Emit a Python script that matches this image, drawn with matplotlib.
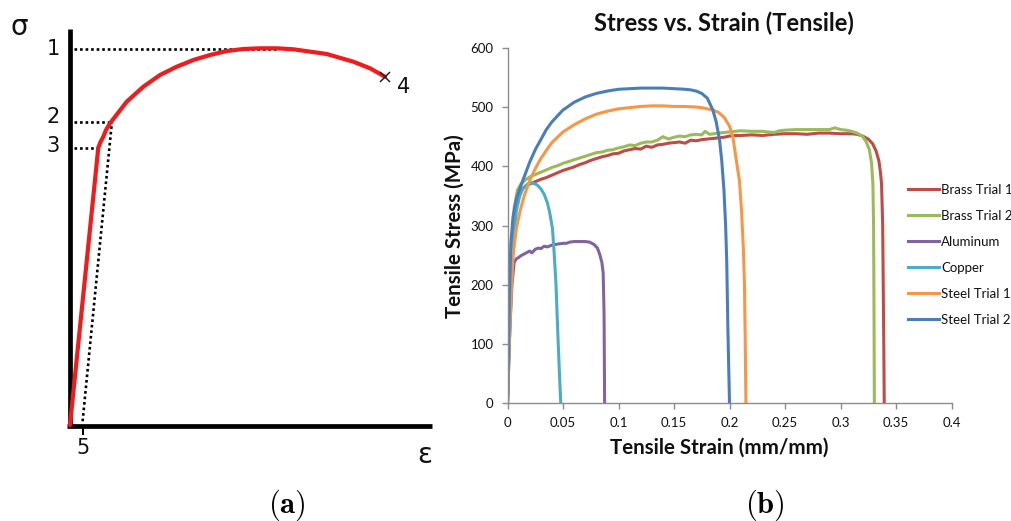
import matplotlib
matplotlib.use("Agg")
import matplotlib.pyplot as plt

# ---------------- Panel (a): schematic stress-strain curve ----------------
schem_strain = [0.0, 0.0898, 0.0968, 0.1057, 0.1143, 0.127, 0.18, 0.2327, 0.2857, 0.3387, 0.3914,
                0.4444, 0.4975, 0.5502, 0.6032, 0.6562, 0.7089, 0.8149, 0.8994, 0.9524, 1.0]
schem_stress = [0.0, 0.7355, 0.7507, 0.7647, 0.7825, 0.8003, 0.8576, 0.8973, 0.9284, 0.9504, 0.9682,
                0.9814, 0.992, 0.9973, 0.9992, 0.9992, 0.9966, 0.9841, 0.9637, 0.9462, 0.9239]
schem_labels = ["1", "2", "3", "4", "5"]
uts_level = 0.9985
yield_level = 0.803
prop_level = 0.7355
offset_strain = 0.040

# ---------------- Panel (b): measured tensile curves ----------------
brass1_strain = [0, 0.002, 0.004, 0.006, 0.009, 0.012, 0.016, 0.02, 0.025, 0.03, 0.035, 0.04, 0.045,
                 0.05, 0.055, 0.06, 0.065, 0.07, 0.075, 0.08, 0.085, 0.09, 0.095, 0.1, 0.105, 0.11,
                 0.115, 0.12, 0.125, 0.13, 0.135, 0.14, 0.145, 0.15, 0.155, 0.16, 0.165, 0.17, 0.175,
                 0.18, 0.185, 0.19, 0.195, 0.2, 0.205, 0.21, 0.22, 0.23, 0.24, 0.25, 0.26, 0.27, 0.28,
                 0.29, 0.3, 0.31, 0.315, 0.32, 0.325, 0.329, 0.332, 0.3345, 0.336, 0.337, 0.338,
                 0.3385, 0.339, 0.3394]
brass1_stress = [0, 150, 260, 320, 350, 360, 366, 370, 374, 378, 381, 385, 389, 393, 396, 399, 403,
                 406, 410, 413, 416, 418, 421, 422, 426, 428, 430, 429, 434, 432, 436, 437, 439, 440,
                 441, 439, 444, 443, 445, 446, 447, 448, 449, 451, 452, 452, 453, 452, 454, 455, 455,
                 454, 456, 456, 455, 455, 454, 451, 446, 438, 426, 410, 390, 370, 300, 200, 100, 0]

brass2_strain = [0, 0.002, 0.004, 0.006, 0.009, 0.012, 0.016, 0.02, 0.025, 0.03, 0.035, 0.04, 0.045,
                 0.05, 0.055, 0.06, 0.065, 0.07, 0.075, 0.08, 0.085, 0.09, 0.095, 0.1, 0.105, 0.11,
                 0.115, 0.12, 0.125, 0.13, 0.135, 0.14, 0.145, 0.15, 0.155, 0.16, 0.165, 0.17, 0.175,
                 0.178, 0.182, 0.19, 0.2, 0.21, 0.22, 0.23, 0.24, 0.245, 0.25, 0.26, 0.27, 0.28, 0.29,
                 0.295, 0.3, 0.305, 0.31, 0.315, 0.32, 0.323, 0.326, 0.328, 0.3292, 0.3298, 0.3302,
                 0.3305]
brass2_stress = [0, 160, 270, 330, 360, 370, 377, 382, 386, 390, 394, 398, 401, 405, 408, 411, 414,
                 417, 420, 423, 424, 427, 428, 431, 433, 436, 435, 439, 441, 441, 444, 450, 446, 449,
                 451, 450, 453, 454, 453, 459, 454, 456, 458, 460, 459, 459, 457, 460, 461, 462, 462,
                 462, 462, 465, 462, 461, 459, 456, 450, 442, 428, 405, 370, 300, 150, 0]

alu_strain = [0, 0.002, 0.004, 0.006, 0.008, 0.01, 0.012, 0.015, 0.018, 0.02, 0.022, 0.025, 0.028,
              0.03, 0.033, 0.036, 0.04, 0.043, 0.046, 0.05, 0.053, 0.056, 0.06, 0.065, 0.07, 0.074,
              0.078, 0.081, 0.083, 0.085, 0.0862, 0.087, 0.0875]
alu_stress = [0, 120, 200, 238, 244, 246, 249, 252, 255, 257, 254, 260, 262, 261, 265, 264, 267, 268,
              269, 270, 270, 272, 273, 273, 273, 272, 268, 262, 252, 238, 220, 150, 0]

copper_strain = [0, 0.002, 0.004, 0.006, 0.008, 0.011, 0.014, 0.018, 0.021, 0.024, 0.027, 0.03,
                 0.033, 0.036, 0.038, 0.0405, 0.042, 0.0437, 0.0455, 0.0468, 0.048]
copper_stress = [0, 120, 230, 290, 325, 350, 363, 370, 372, 371, 368, 362, 353, 338, 322, 295, 255,
                 200, 110, 50, 0]

steel1_strain = [0, 0.001, 0.003, 0.005, 0.008, 0.011, 0.015, 0.02, 0.025, 0.03, 0.035, 0.04, 0.05,
                 0.06, 0.07, 0.08, 0.09, 0.1, 0.11, 0.12, 0.13, 0.14, 0.15, 0.16, 0.17, 0.175, 0.18,
                 0.185, 0.19, 0.195, 0.2, 0.203, 0.206, 0.209, 0.211, 0.2125, 0.2135, 0.2142, 0.2148]
steel1_stress = [0, 70, 170, 250, 295, 322, 350, 376, 396, 413, 427, 440, 458, 470, 480, 488, 493,
                 497, 499, 501, 502, 502, 501, 501, 500, 499, 497, 495, 491, 483, 468, 450, 412, 375,
                 320, 260, 200, 100, 0]

steel2_strain = [0, 0.001, 0.002, 0.003, 0.005, 0.008, 0.011, 0.015, 0.02, 0.025, 0.03, 0.035, 0.04,
                 0.05, 0.06, 0.07, 0.08, 0.09, 0.1, 0.11, 0.12, 0.13, 0.14, 0.15, 0.16, 0.165, 0.17,
                 0.175, 0.18, 0.185, 0.188, 0.191, 0.193, 0.195, 0.1965, 0.1975, 0.1985, 0.2]
steel2_stress = [0, 100, 200, 270, 315, 345, 362, 382, 407, 428, 445, 462, 475, 495, 508, 517, 523,
                 527, 530, 531, 532, 532, 532, 531, 530, 529, 527, 523, 515, 495, 475, 445, 410, 360,
                 300, 240, 130, 0]

series_names = ["Brass Trial 1", "Brass Trial 2", "Aluminum", "Copper", "Steel Trial 1", "Steel Trial 2"]
series_colors = ["#BE4B48", "#9BBB59", "#8064A2", "#4BACC6", "#F79646", "#4A7EBB"]

x_ticks = [0, 0.05, 0.1, 0.15, 0.2, 0.25, 0.3, 0.35, 0.4]
x_tick_labels = ["0", "0.05", "0.1", "0.15", "0.2", "0.25", "0.3", "0.35", "0.4"]
y_ticks = [0, 100, 200, 300, 400, 500, 600]

W, H = 1012, 521
fig = plt.figure(figsize=(W / 100, H / 100), dpi=100)
plt.rcParams["mathtext.fontset"] = "cm"

# ---- panel (a) ----
sx, sy = 315.0, 377.0      # px per unit
ox, oy = 70.0, 425.0       # origin in px
axw = 440.0
axa = fig.add_axes([0, 0, axw / W, 1])
axa.set_xlim(-ox / sx, (axw - ox) / sx)
axa.set_ylim(-(H - oy) / sy, oy / sy)
axa.axis("off")

black = "black"
axa.plot([0, 0], [-2 / sy, (oy - 29) / sy], color=black, lw=3.4, solid_capstyle="butt")
axa.plot([-3 / sx, (432 - ox) / sx], [-0.7 / sy, -0.7 / sy], color=black, lw=3.4, solid_capstyle="butt")
dot = dict(color=black, lw=1.9, ls=(0, (1, 1.1)))
axa.plot([4 / sx, 0.657], [uts_level, uts_level], **dot)
axa.plot([4 / sx, 0.133], [yield_level, yield_level], **dot)
axa.plot([4 / sx, schem_strain[1]], [prop_level, prop_level], **dot)
axa.plot([offset_strain, 0.133], [0.01, yield_level], **dot)
axa.plot([offset_strain, offset_strain], [-3 / sy, -9 / sy], color=black, lw=1.5)
axa.plot(schem_strain, schem_stress, color="#EE1C1C", lw=3.0, solid_joinstyle="round",
         solid_capstyle="round")
axa.plot([schem_strain[-1]], [schem_stress[-1]], marker="x", ms=7, mew=1.1, color="#222222")

tfont = dict(family="DejaVu Sans", fontsize=15, color="#111111")
gfont = dict(family="DejaVu Sans", fontsize=20, color="#111111")
axa.text(-51 / sx, (oy - 27) / sy, "σ", ha="center", va="center", **gfont)
axa.text(-17 / sx, uts_level, schem_labels[0], ha="center", va="center", **tfont)
axa.text(-17 / sx, 0.817, schem_labels[1], ha="center", va="center", **tfont)
axa.text(-17 / sx, 0.740, schem_labels[2], ha="center", va="center", **tfont)
axa.text(1.06, 0.897, schem_labels[3], ha="center", va="center", **tfont)
axa.text(offset_strain, -23 / sy, schem_labels[4], ha="center", va="center", **tfont)
axa.text((425 - ox) / sx, -30 / sy, "ε", ha="center", va="center", **gfont)

fig.text(287 / W, 1 - 505 / H, r"$\mathbf{(a)}$", ha="center", va="center", fontsize=22)
fig.text(765 / W, 1 - 505 / H, r"$\mathbf{(b)}$", ha="center", va="center", fontsize=22)

# ---- panel (b) ----
bfam = ["Lato", "DejaVu Sans"]
x0, x1 = 507.5, 951.5
y0, y1 = 403.3, 47.8
axb = fig.add_axes([x0 / W, 1 - y0 / H, (x1 - x0) / W, (y0 - y1) / H])
xs = [brass1_strain, brass2_strain, alu_strain, copper_strain, steel1_strain, steel2_strain]
ys = [brass1_stress, brass2_stress, alu_stress, copper_stress, steel1_stress, steel2_stress]
for xv, yv, name, col in zip(xs, ys, series_names, series_colors):
    axb.plot(xv, yv, color=col, lw=2.2, label=name, solid_joinstyle="round")
axb.set_xlim(0, 0.4)
axb.set_ylim(0, 600)
axb.set_xticks(x_ticks)
axb.set_xticklabels(x_tick_labels)
axb.set_yticks(y_ticks)
for s in ["top", "right"]:
    axb.spines[s].set_visible(False)
for s in ["left", "bottom"]:
    axb.spines[s].set_color("#8C8C8C")
    axb.spines[s].set_linewidth(1.0)
axb.tick_params(axis="both", colors="#8C8C8C", length=4, width=1.0, direction="out",
                labelcolor="#111111", labelsize=9.5, pad=6)
for lab in axb.get_xticklabels() + axb.get_yticklabels():
    lab.set_family(bfam)
fig.text(724 / W, 1 - 23 / H, "Stress vs. Strain (Tensile)", fontsize=17, fontweight="bold",
         family=bfam, ha="center", va="center", color="#111111")
fig.text(719 / W, 1 - 448 / H, "Tensile Strain (mm/mm)", fontsize=14.8, fontweight="bold",
         family=bfam, ha="center", va="center", color="#111111")
fig.text(455 / W, 1 - 226 / H, "Tensile Stress (MPa)", fontsize=14.8, fontweight="bold",
         family=bfam, ha="center", va="center", rotation=90, color="#111111")
leg = axb.legend(loc="upper left", bbox_to_anchor=((908 - x0) / (x1 - x0), (y0 - 183.5) / (y0 - y1)),
                 frameon=False, prop=dict(family=bfam, size=9.5), handlelength=2.35,
                 handletextpad=0.15, labelspacing=1.07, borderaxespad=0, borderpad=0)
for t in leg.get_texts():
    t.set_color("#111111")

fig.savefig("out.png", dpi=100)
